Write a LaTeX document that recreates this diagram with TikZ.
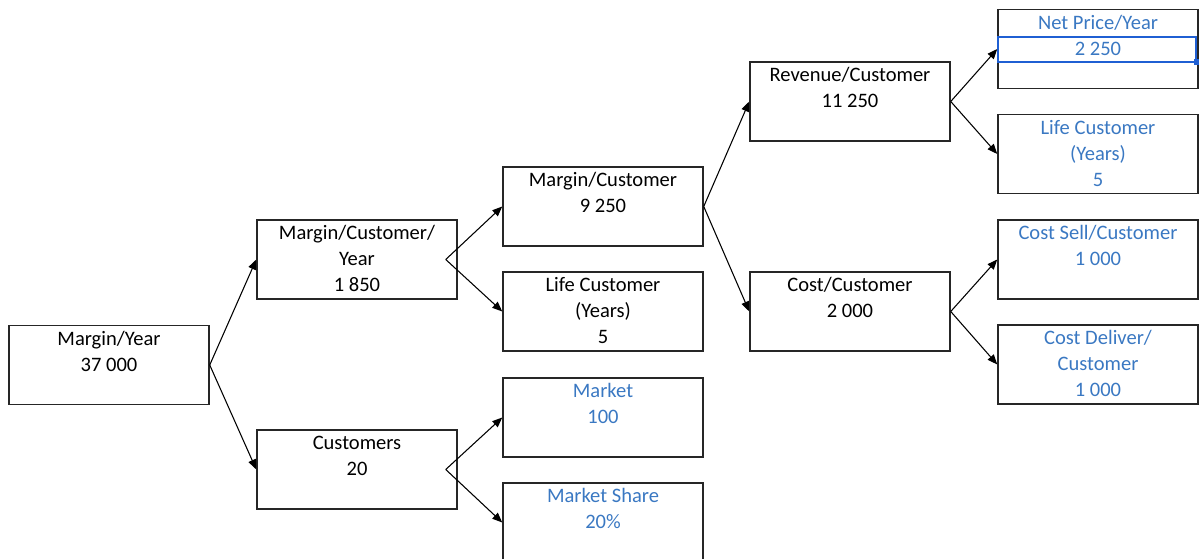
\documentclass[tikz,border=0pt]{standalone}
\usepackage{fontspec}
\setmainfont{Carlito}
\usetikzlibrary{arrows.meta}
\definecolor{valblue}{HTML}{3A78C2}
\definecolor{selblue}{HTML}{1F5FD3}
\newcommand{\topstrut}{\rule{0pt}{13pt}}
\tikzset{
  box/.style={draw=black!85, line width=1.1pt, rectangle, minimum width=150pt,
              minimum height=59.25pt, inner sep=0pt},
  boxtext/.style={anchor=north, align=center, inner sep=0pt,
                  font=\fontsize{15.4}{19.5}\selectfont},
  link/.style={line width=0.8pt, -{Triangle[length=7.5pt,width=6pt]}}
}
% a box with its top-aligned text
\newcommand{\treebox}[5]{%
  \node[box] (#1) at (#2,#3) {};
  \node[boxtext, text=#5] (#1-t) at ([yshift=-2pt]#1.north) {\topstrut#4};
}
\begin{document}
\begin{tikzpicture}[x=0.75pt, y=-0.75pt]
\useasboundingbox (0,0) rectangle (1200,559);
\clip (0,0) rectangle (1200,559);

% level 0
\treebox{my}{109}{365}{Margin/Year\\37 000}{black}
% level 1
\treebox{mcy}{357}{259.5}{Margin/Customer/\\Year\\1 850}{black}
\treebox{cu}{357}{469.5}{Customers\\20}{black}
% level 2
\treebox{mc}{603}{206.5}{Margin/Customer\\9 250}{black}
\treebox{lc}{603}{311.5}{Life Customer\\(Years)\\5}{black}
\treebox{mk}{603}{417.5}{Market\\100}{valblue}
\treebox{ms}{603}{522.5}{Market Share\\20\%}{valblue}
% level 3
\treebox{rc}{850}{101.5}{Revenue/Customer\\11 250}{black}
\treebox{cc}{850}{311.5}{Cost/Customer\\2 000}{black}
% level 4
\treebox{np}{1098}{49}{Net Price/Year\\2 250}{valblue}
\treebox{lcr}{1098}{154}{Life Customer\\(Years)\\5}{valblue}
\treebox{cs}{1098}{259.5}{Cost Sell/Customer\\1 000}{valblue}
\treebox{cd}{1098}{364.5}{Cost Deliver/\\Customer\\1 000}{valblue}

% selected value cell
\draw[selblue, line width=1.5pt] (998,37) rectangle (1196,62);
\fill[selblue] (1193.5,59.5) rectangle (1199,65);

% connectors
\coordinate (mcyout) at ([xshift=-9pt]mcy.east);
\coordinate (cuout) at ([xshift=-9pt]cu.east);
\draw[link] (my.east) -- (mcy.west);
\draw[link] (my.east) -- (cu.west);
\draw[link] (mcyout) -- (mc.west);
\draw[link] (mcyout) -- (lc.west);
\draw[link] (cuout) -- (mk.west);
\draw[link] (cuout) -- (ms.west);
\draw[link] (mc.east) -- (rc.west);
\draw[link] (mc.east) -- (cc.west);
\draw[link] (rc.east) -- (np.west);
\draw[link] (rc.east) -- (lcr.west);
\draw[link] (cc.east) -- (cs.west);
\draw[link] (cc.east) -- (cd.west);
\end{tikzpicture}
\end{document}
